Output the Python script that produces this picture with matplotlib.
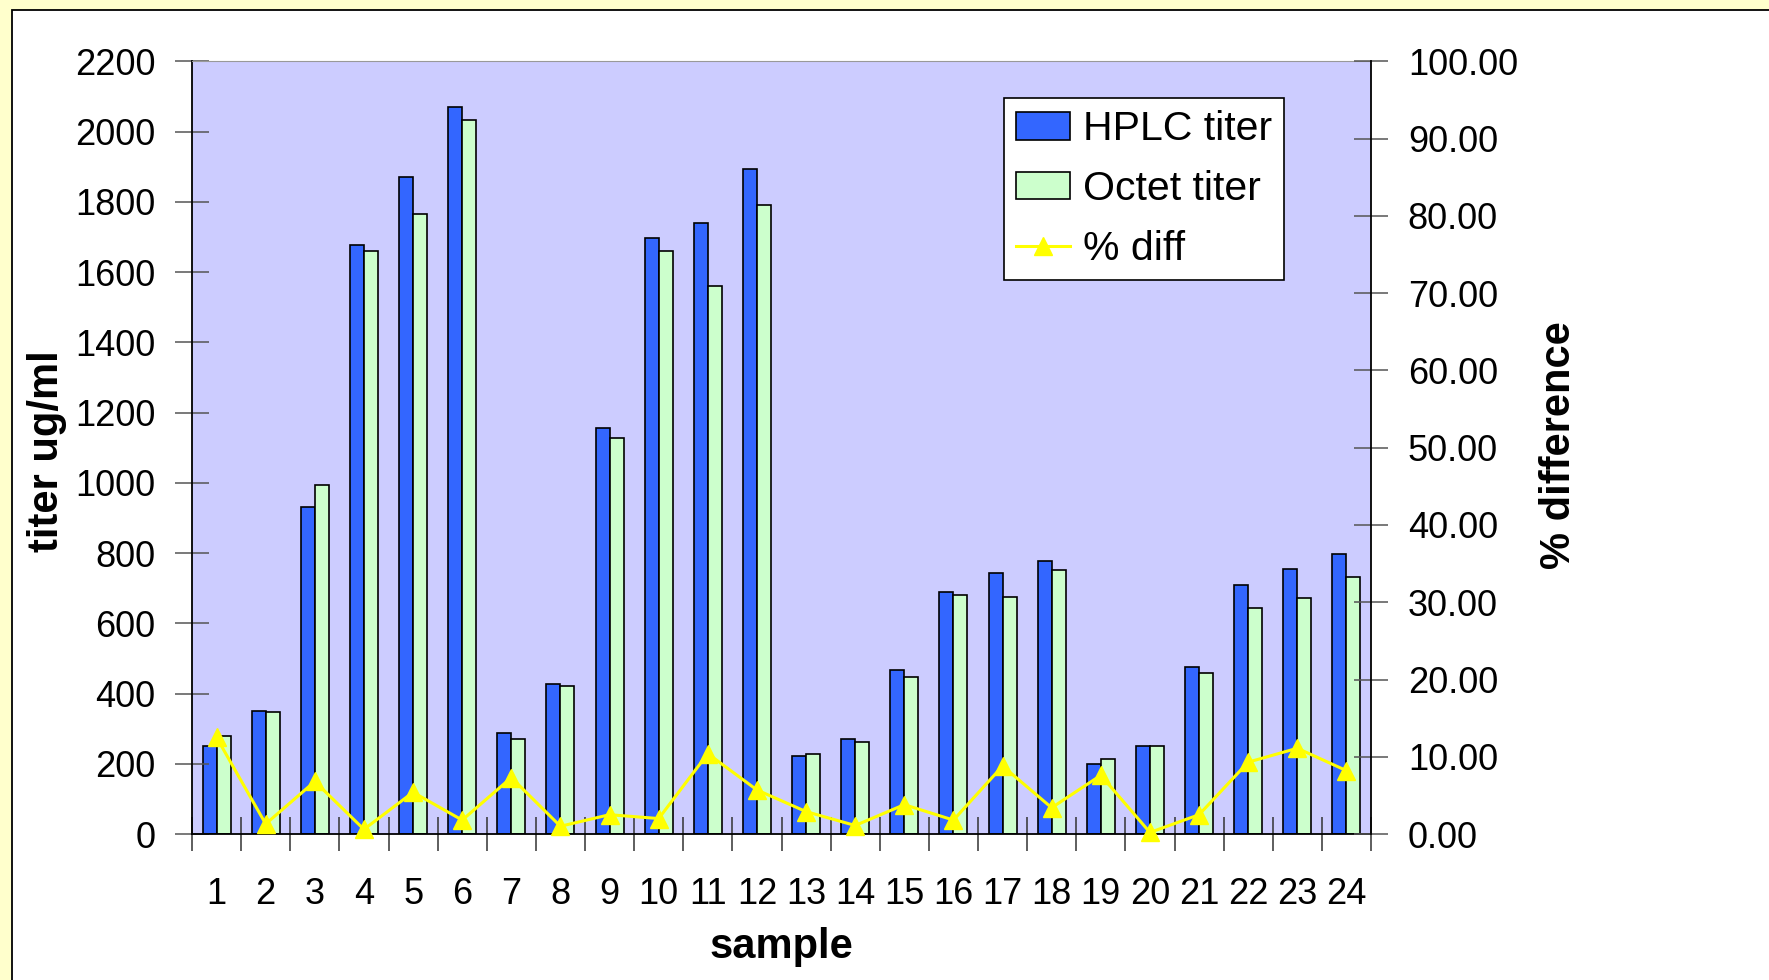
import numpy as np
import matplotlib
matplotlib.use("Agg")
import matplotlib.pyplot as plt
import matplotlib.ticker as mticker
from matplotlib.patches import Rectangle, Patch
from matplotlib.lines import Line2D

plt.rcParams["font.family"] = ["Liberation Sans", "DejaVu Sans"]

# --------- data ---------
samples = [str(i) for i in range(1, 25)]
hplc_titer = [250, 350, 931, 1676, 1872, 2071, 289, 427, 1156, 1696, 1740, 1895,
              222, 270, 466, 690, 742, 777, 199, 250, 475, 710, 755, 796]
octet_titer = [279, 347, 995, 1660, 1766, 2033, 270, 421, 1127, 1660, 1561, 1792,
               228, 263, 446, 681, 674, 751, 215, 250, 459, 645, 671, 732]
pct_diff = [12.5, 1.3, 6.8, 0.6, 5.4, 1.8, 7.3, 1.0, 2.5, 2.0, 10.4, 5.7,
            2.9, 1.1, 3.8, 1.8, 8.8, 3.4, 7.6, 0.2, 2.5, 9.3, 11.1, 8.2]
left_ticks = list(range(0, 2201, 200))
right_ticks = list(range(0, 101, 10))
# ------------------------

W, H = 1769, 980
fig = plt.figure(figsize=(W / 100, H / 100), dpi=100, facecolor="#FFFFCC")

# white chart panel behind everything
panel = Rectangle((12 / W, -0.05), 1.1, (H - 10) / H + 0.05,
                  transform=fig.transFigure, facecolor="white",
                  edgecolor="black", lw=1.3, zorder=-10)
fig.patches.append(panel)

# plot area in pixels: x 192..1371, y 61.5..834 (from top)
px_l, px_r, px_t, px_b = 192, 1371, 61.5, 834
ax = fig.add_axes([px_l / W, (H - px_b) / H, (px_r - px_l) / W, (px_b - px_t) / H])
ax.set_facecolor("#CCCCFF")

x = np.arange(len(samples))
bw = 1 / 3.5
ax.bar(x - bw / 2, hplc_titer, bw, color="#3366FF", edgecolor="black", lw=1.2)
ax.bar(x + bw / 2, octet_titer, bw, color="#CCFFCC", edgecolor="black", lw=1.2)

ax.set_xlim(-0.5, len(samples) - 0.5)
ax.set_ylim(0, 2200)
ax.set_yticks(left_ticks)

# ticks between categories, labels at centres
ax.xaxis.set_major_locator(mticker.FixedLocator(np.arange(-0.5, len(samples), 1)))
ax.xaxis.set_major_formatter(mticker.NullFormatter())
ax.xaxis.set_minor_locator(mticker.FixedLocator(x))
ax.xaxis.set_minor_formatter(mticker.FixedFormatter(samples))
ax.tick_params(axis="x", which="major", direction="inout", length=25, width=1.1, color="#333333")
ax.tick_params(axis="x", which="minor", length=0, pad=31, labelsize=26)
ax.tick_params(axis="y", direction="inout", length=25, width=1.1, color="#555555",
               pad=14, labelsize=26)

for side in ["left", "bottom"]:
    ax.spines[side].set_color("black")
    ax.spines[side].set_linewidth(1.3)
ax.spines["top"].set_color("#999999")
ax.spines["right"].set_visible(False)

# % difference on secondary axis
ax2 = ax.twinx()
ax2.plot(x, pct_diff, color="#FFFF00", lw=2.2, marker="^", ms=13, clip_on=False)
ax2.set_ylim(0, 100)
ax2.set_yticks(right_ticks)
ax2.yaxis.set_major_formatter(mticker.FormatStrFormatter("%.2f"))
ax2.tick_params(axis="y", direction="inout", length=25, width=1.1, color="#555555",
                pad=14, labelsize=26)
ax2.spines["right"].set_color("black")
ax2.spines["right"].set_linewidth(1.3)
for side in ["left", "top", "bottom"]:
    ax2.spines[side].set_visible(False)

# axis titles
ax.set_xlabel("sample", fontsize=30, fontweight="bold", va="center", ha="center")
ax.xaxis.set_label_coords(0.5, (px_b - 947) / (px_b - px_t))
ax.set_ylabel("titer ug/ml", fontsize=30, fontweight="bold", va="center", ha="center")
ax.yaxis.set_label_coords((47 - px_l) / (px_r - px_l), (px_b - 451) / (px_b - px_t))
ax2.set_ylabel("% difference", fontsize=30, fontweight="bold", va="center", ha="center")
ax2.yaxis.set_label_coords((1559 - px_l) / (px_r - px_l), (px_b - 445) / (px_b - px_t))

handles = [
    Patch(facecolor="#3366FF", edgecolor="black", lw=1.2),
    Patch(facecolor="#CCFFCC", edgecolor="black", lw=1.2),
    Line2D([], [], color="#FFFF00", lw=2.2, marker="^", ms=13),
]
leg = ax2.legend(handles, ["HPLC titer", "Octet titer", "% diff"],
                 loc="upper left",
                 bbox_to_anchor=((1004 - px_l) / (px_r - px_l), (px_b - 98) / (px_b - px_t)),
                 borderaxespad=0, fontsize=29.5, frameon=True, fancybox=False,
                 framealpha=1, edgecolor="black", handlelength=1.3,
                 handleheight=0.65, handletextpad=0.33, borderpad=0.3,
                 labelspacing=0.53)
leg.get_frame().set_linewidth(1.2)

plt.savefig("out.png", dpi=100, facecolor=fig.get_facecolor())
